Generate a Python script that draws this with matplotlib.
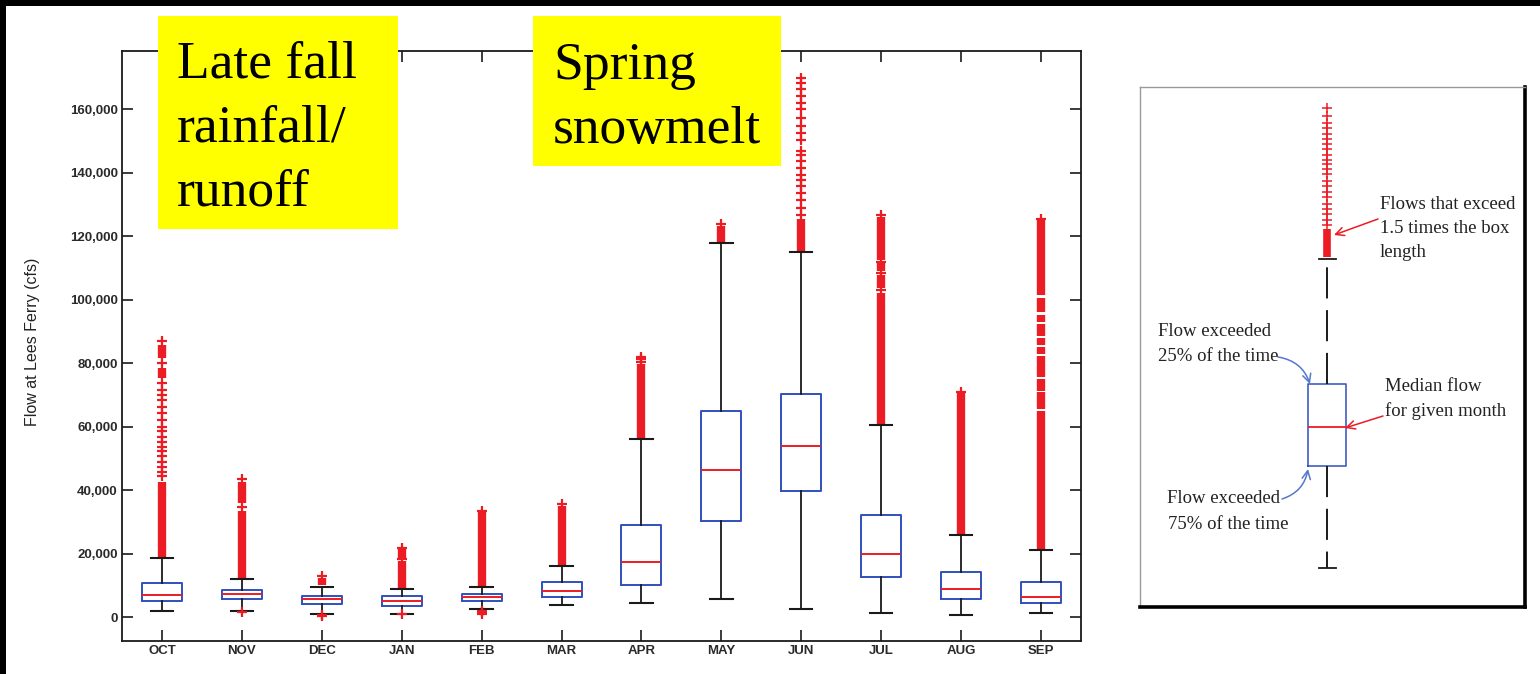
import matplotlib
matplotlib.use("Agg")
import matplotlib.pyplot as plt
from matplotlib.patches import Rectangle
from matplotlib.ticker import StrMethodFormatter
import numpy as np

# ---------------- data ----------------
months = ['OCT', 'NOV', 'DEC', 'JAN', 'FEB', 'MAR', 'APR', 'MAY', 'JUN', 'JUL', 'AUG', 'SEP']
whislo = [1800, 1800, 1050, 1050, 2500, 3800, 4400, 5800, 2500, 1150, 500, 1150]
q1     = [5050, 5700, 4200, 3600, 4950, 6300, 10100, 30200, 39800, 12600, 5700, 4400]
median = [7050, 7150, 5800, 5050, 6300, 8300, 17400, 46300, 54000, 19900, 8950, 6300]
q3     = [10850, 8400, 6500, 6500, 7150, 10950, 29000, 65100, 70200, 32200, 14100, 10950]
whishi = [18500, 12100, 9600, 8950, 9600, 16000, 56000, 118000, 115200, 60400, 25700, 21200]

# individually visible outliers (red "+")
fliers = [
    [44300, 45800, 47400, 49000, 50600, 52200, 53700, 55300, 56900, 58500, 60000,
     62200, 64300, 66200, 68500, 70000, 71600, 73700, 80000, 86900],
    [34600, 43600, 1500],
    [12900, 700, 200],
    [18200, 21800, 900],
    [33500, 2000, 1500, 1100],
    [35600],
    [80500, 81300, 82100],
    [124000],
    [126800, 128900, 131600, 133700, 135800, 137900, 139400, 141600, 143700, 145800,
     146800, 150500, 152600, 154700, 157300, 160000, 162100, 164200, 166300, 168400, 170000],
    [103000, 108400, 112000, 126600],
    [71000],
    [125500],
]

# runs of outliers so dense that the "+" marks merge into a solid bar
band_month = [0, 0, 0, 1, 1, 2, 3, 3, 4, 5, 6, 7, 8,
              9, 9, 9, 9, 10,
              11, 11, 11, 11, 11, 11, 11, 11, 11, 11]
band_lo = [18900, 75300, 81600, 12300, 35800, 10200, 9300, 18600, 9900, 16300, 56300, 118300, 115500,
           60800, 103800, 109000, 112600, 26000,
           21500, 65700, 71400, 75800, 83000, 85600, 88700, 93100, 96000, 101400]
band_hi = [42600, 78500, 85800, 33500, 42600, 12300, 17800, 21300, 33000, 35000, 79800, 123300, 125600,
           102000, 107800, 111500, 126000, 70500,
           64900, 70800, 75100, 82400, 85000, 88000, 92400, 95300, 100700, 125000]

yticks = [0, 20000, 40000, 60000, 80000, 100000, 120000, 140000, 160000]

# schematic example in the key panel (arbitrary units)
key_stats = dict(whislo=39, q1=141, med=180, q3=223, whishi=348)
key_band = (350, 378)
key_fliers = [382, 387, 393, 398, 403, 410, 415, 421, 426, 433, 438, 443, 447,
              452, 458, 463, 468, 473, 479, 484, 491, 499]

fall_lines = ['Late fall', 'rainfall/', 'runoff']
spring_lines = ['Spring', 'snowmelt']

# ---------------- styling ----------------
W, H = 1540, 674
BLUE = '#3050bd'
RED = '#ec1c24'
INK = '#1a1a1a'

def fx(px):
    return px / W

def fy(py):
    return 1 - py / H

fig = plt.figure(figsize=(W / 100, H / 100), dpi=100)
fig.patch.set_facecolor('white')

# black frame strips at top and left
fig.patches.append(Rectangle((0, fy(6)), 1, 1 - fy(6), transform=fig.transFigure,
                             facecolor='black', edgecolor='none', zorder=0))
fig.patches.append(Rectangle((0, 0), fx(6), 1, transform=fig.transFigure,
                             facecolor='black', edgecolor='none', zorder=0))

# ---------------- main chart ----------------
ax = fig.add_axes([fx(122), fy(641), fx(1081) - fx(122), fy(51) - fy(641)])
positions = np.arange(1, len(months) + 1)
stats = []
for i, m in enumerate(months):
    stats.append(dict(label=m, whislo=whislo[i], q1=q1[i], med=median[i],
                      q3=q3[i], whishi=whishi[i], fliers=fliers[i]))

ax.vlines(positions[np.array(band_month)], band_lo, band_hi, colors=RED,
          linewidth=6.0, zorder=1.5)
ax.bxp(stats, positions=positions, widths=0.5, capwidths=0.28, manage_ticks=False,
       boxprops=dict(color=BLUE, linewidth=1.4),
       medianprops=dict(color=RED, linewidth=1.4),
       whiskerprops=dict(color=INK, linewidth=1.3),
       capprops=dict(color=INK, linewidth=1.5),
       flierprops=dict(marker='+', markeredgecolor=RED, markersize=7,
                       markeredgewidth=1.6, linestyle='none'))

ax.set_xlim(0.5, 12.5)
ax.set_ylim(-7566, 178436)
ax.set_xticks(positions)
ax.set_xticklabels(months)
ax.set_yticks(yticks)
ax.yaxis.set_major_formatter(StrMethodFormatter('{x:,.0f}'))
ax.tick_params(direction='in', length=7.7, width=1.2, color=INK,
               top=True, right=True, labelsize=9.5, labelcolor='#2a2a2a')
ax.tick_params(axis='x', pad=3)
ax.tick_params(axis='y', pad=3)
for lab in ax.get_xticklabels() + ax.get_yticklabels():
    lab.set_fontfamily('Liberation Sans')
    lab.set_fontweight('bold')
for s in ax.spines.values():
    s.set_color(INK)
    s.set_linewidth(1.3)

fig.text(fx(33), fy(342), 'Flow at Lees Ferry (cfs)', rotation=90, ha='center',
         va='center', fontsize=11.5, family='Liberation Sans', color='#222')

# ---------------- yellow callouts ----------------
fig.patches.append(Rectangle((fx(158), fy(229)), fx(398) - fx(158), fy(16) - fy(229),
                             transform=fig.transFigure, facecolor='#ffff00',
                             edgecolor='none', zorder=5))
fig.patches.append(Rectangle((fx(533), fy(166)), fx(781) - fx(533), fy(16) - fy(166),
                             transform=fig.transFigure, facecolor='#ffff00',
                             edgecolor='none', zorder=5))
for k, line in enumerate(fall_lines):
    fig.text(fx(177), fy(78 + 63.5 * k), line, fontsize=38.5, family='Liberation Serif',
             color='black', va='baseline', ha='left', zorder=6)
for k, line in enumerate(spring_lines):
    fig.text(fx(553), fy(79 + 63.5 * k), line, fontsize=38.5, family='Liberation Serif',
             color='black', va='baseline', ha='left', zorder=6)

# ---------------- key panel ----------------
kx0, ky0, kx1, ky1 = 1140, 87, 1525, 607
kax = fig.add_axes([fx(kx0), fy(ky1), fx(kx1) - fx(kx0), fy(ky0) - fy(ky1)])
kax.set_xlim(0, kx1 - kx0)
kax.set_ylim(0, ky1 - ky0)
kax.set_xticks([])
kax.set_yticks([])
for side in ['top', 'left']:
    kax.spines[side].set_color('#9a9a9a')
    kax.spines[side].set_linewidth(1.0)
for side in ['bottom', 'right']:
    kax.spines[side].set_color('black')
    kax.spines[side].set_linewidth(2.6)

kcx = 187
kax.vlines([kcx], [key_band[0]], [key_band[1]], colors=RED, linewidth=5.5, zorder=1.5)
kax.bxp([dict(key_stats, fliers=key_fliers)], positions=[kcx], widths=38, capwidths=17,
        manage_ticks=False,
        boxprops=dict(color=BLUE, linewidth=1.1),
        medianprops=dict(color=RED, linewidth=1.3),
        whiskerprops=dict(color=INK, linewidth=1.4, linestyle=(0, (16, 6))),
        capprops=dict(color=INK, linewidth=1.3),
        flierprops=dict(marker='+', markeredgecolor=RED, markersize=7,
                        markeredgewidth=1.1, linestyle='none'))

tkw = dict(fontsize=13.5, family='Liberation Serif', color='#222', va='baseline', ha='left')
def kt(px, py, s):
    kax.text(px - kx0, ky1 - py, s, **tkw)

kt(1380, 209, 'Flows that exceed')
kt(1380, 233, '1.5 times the box')
kt(1380, 257, 'length')
kt(1385, 391, 'Median flow')
kt(1385, 416, 'for given month')
kt(1158, 336, 'Flow exceeded')
kt(1158, 361, '25% of the time')
kt(1167, 503, 'Flow exceeded')
kt(1168, 529, '75% of the time')

def karrow(x0, y0, x1, y1, color, rad):
    kax.annotate('', xy=(x1 - kx0, ky1 - y1), xytext=(x0 - kx0, ky1 - y0),
                 arrowprops=dict(arrowstyle='->,head_length=0.6,head_width=0.3',
                                 color=color, lw=1.1,
                                 connectionstyle='arc3,rad=%s' % rad,
                                 shrinkA=0, shrinkB=0))

karrow(1378, 219, 1334, 235, RED, 0.0)
karrow(1383, 416, 1345, 428, RED, 0.0)
karrow(1278, 357, 1310, 384, '#5577cc', -0.3)
karrow(1282, 499, 1308, 469, '#5577cc', 0.3)

fig.savefig('out.png', dpi=100, facecolor=fig.get_facecolor())
